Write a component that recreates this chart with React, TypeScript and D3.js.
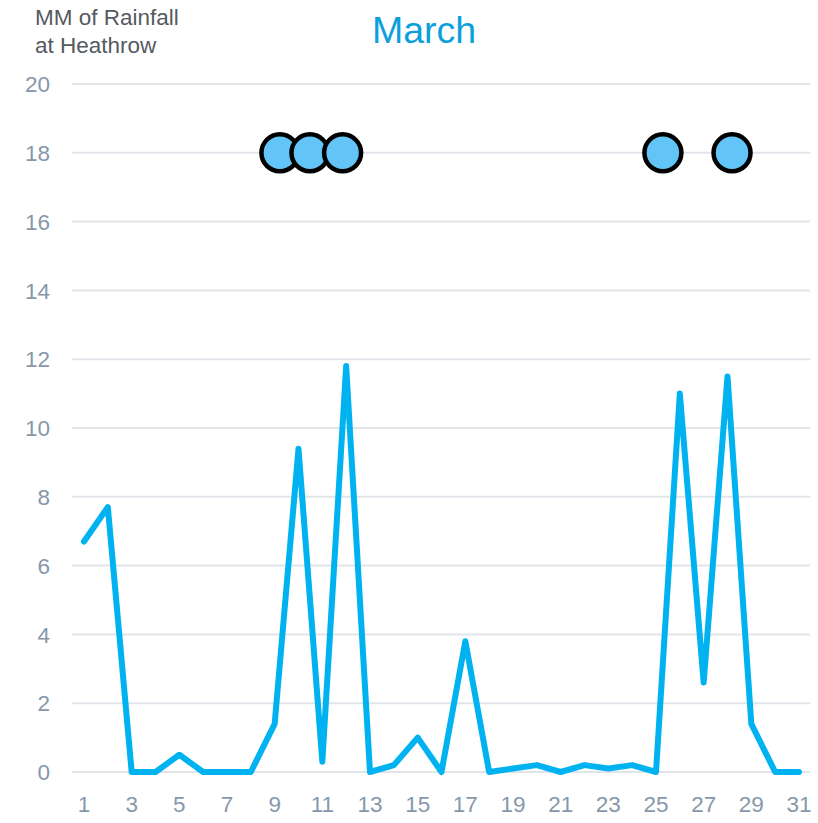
import React, { useEffect, useRef } from "react";
import * as d3 from "d3";

// daily rainfall at Heathrow, March (mm)
const days = d3.range(1, 32);
const rainfall = [
  6.7, 7.7, 0, 0, 0.5, 0, 0, 0, 1.4, 9.4, 0.3, 11.8, 0, 0.2, 1.0, 0, 3.8, 0, 0.1, 0.2, 0, 0.2, 0.1, 0.2, 0,
  11.0, 2.6, 11.5, 1.4, 0, 0,
];
// heavy-rain markers (day position, drawn on the 18mm row)
const markerDays = [9.22, 10.48, 11.85, 25.29, 28.19];
const markerLevel = 18;
const yTicks = d3.range(0, 21, 2);
const xTicks = days.filter((d) => d % 2 === 1);

const width = 818;
const height = 823;
const margin = { top: 84, right: 19, bottom: 51, left: 84 };

export default function App() {
  const ref = useRef<SVGSVGElement>(null);

  useEffect(() => {
    const svg = d3.select(ref.current);
    svg.selectAll("*").remove();

    const x = d3
      .scaleLinear()
      .domain([1, 31])
      .range([margin.left, width - margin.right]);
    const y = d3
      .scaleLinear()
      .domain([0, 20])
      .range([height - margin.bottom, margin.top]);

    const font = "'Liberation Sans', Arial, sans-serif";

    // grid
    svg
      .append("g")
      .selectAll("line")
      .data(yTicks)
      .join("line")
      .attr("x1", 72)
      .attr("x2", 810)
      .attr("y1", (d) => y(d))
      .attr("y2", (d) => y(d))
      .attr("stroke", "#e1e5ea")
      .attr("stroke-width", 2);

    // y labels
    svg
      .append("g")
      .selectAll("text")
      .data(yTicks)
      .join("text")
      .attr("x", 50)
      .attr("y", (d) => y(d))
      .attr("dy", "0.36em")
      .attr("text-anchor", "end")
      .attr("fill", "#8797ab")
      .style("font-family", font)
      .style("font-size", "22.5px")
      .text((d) => d);

    // x labels
    svg
      .append("g")
      .selectAll("text")
      .data(xTicks)
      .join("text")
      .attr("x", (d) => x(d))
      .attr("y", 812)
      .attr("text-anchor", "middle")
      .attr("fill", "#8797ab")
      .style("font-family", font)
      .style("font-size", "22.5px")
      .text((d) => d);

    // rainfall line
    const line = d3
      .line<number>()
      .x((_, i) => x(days[i]))
      .y((d) => y(d));

    svg
      .append("path")
      .datum(rainfall)
      .attr("d", line)
      .attr("fill", "none")
      .attr("stroke", "#00b3f0")
      .attr("stroke-width", 6)
      .attr("stroke-linejoin", "round")
      .attr("stroke-linecap", "round");

    // markers
    svg
      .append("g")
      .selectAll("circle")
      .data(markerDays)
      .join("circle")
      .attr("cx", (d) => x(d))
      .attr("cy", y(markerLevel))
      .attr("r", 18.5)
      .attr("fill", "#62c4f7")
      .attr("stroke", "#000")
      .attr("stroke-width", 4.5);

    // titles
    svg
      .append("text")
      .attr("x", 424)
      .attr("y", 43)
      .attr("text-anchor", "middle")
      .attr("fill", "#0b9fdc")
      .style("font-family", font)
      .style("font-size", "37.5px")
      .text("March");

    const yTitle = svg
      .append("text")
      .attr("fill", "#555a60")
      .style("font-family", font)
      .style("font-size", "22.5px");
    yTitle.append("tspan").attr("x", 35).attr("y", 25).text("MM of Rainfall");
    yTitle.append("tspan").attr("x", 35).attr("y", 53).text("at Heathrow");
  }, []);

  return (
    <svg
      ref={ref}
      width={width}
      height={height}
      style={{ position: "absolute", left: 0, top: 0, background: "#fff" }}
    />
  );
}
